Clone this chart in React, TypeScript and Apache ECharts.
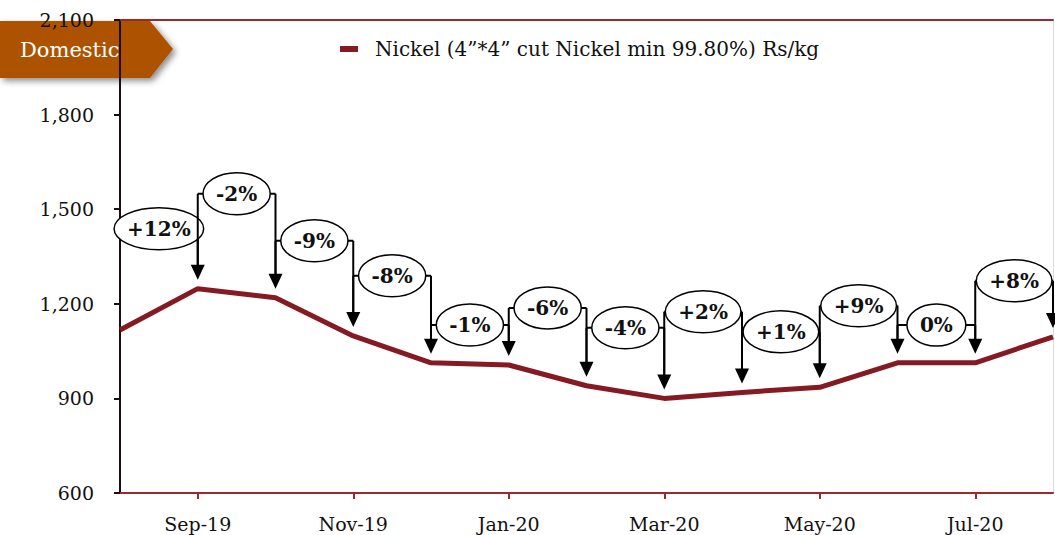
import React, { useEffect, useRef } from 'react';
import * as echarts from 'echarts';

const categories = ['Aug-19', 'Sep-19', 'Oct-19', 'Nov-19', 'Dec-19', 'Jan-20', 'Feb-20', 'Mar-20', 'Apr-20', 'May-20', 'Jun-20', 'Jul-20', 'Aug-20'];
const nickelValues = [1117, 1248, 1219, 1098, 1013, 1006, 940, 900, 919, 935, 1013, 1013, 1095];
// change callouts, one per month from Sep-19 to Aug-20
const changeLabels = ['+12%', '-2%', '-9%', '-8%', '-1%', '-6%', '-4%', '+2%', '+1%', '+9%', '0%', '+8%'];
// vertical level (in Rs/kg) where each callout bubble sits
const calloutLevels = [1438, 1549, 1400, 1289, 1133, 1187, 1124, 1175, 1111, 1194, 1133, 1273];

const seriesName = 'Nickel (4”*4” cut Nickel min 99.80%) Rs/kg';
const badgeText = 'Domestic';

const FONT = '"DejaVu Serif", "Liberation Serif", serif';
const LINE_COLOR = '#861A22';
const AXIS_RED = '#9B2A2E';

const measureCtx = (() => {
  const c = document.createElement('canvas');
  return c.getContext('2d');
})();
function textWidth(t: string, font: string) {
  if (!measureCtx) return t.length * 12;
  measureCtx.font = font;
  return measureCtx.measureText(t).width;
}

export default function App() {
  const ref = useRef<HTMLDivElement>(null);
  useEffect(() => {
    if (!ref.current) return;
    const chart = echarts.init(ref.current, undefined, { renderer: 'svg' });
    const calloutData = changeLabels.map((lab, k) => {
      const i = k + 1;
      return [i, calloutLevels[k], nickelValues[i], nickelValues[i - 1], lab];
    });
    const labelFont = `bold 20px ${FONT}`;
    const option: any = {
      animation: false,
      grid: { left: 120, top: 20, right: 2, bottom: 42, containLabel: false },
      legend: {
        left: 335,
        top: 34,
        itemWidth: 18,
        itemHeight: 6,
        icon: 'rect',
        textStyle: { fontFamily: FONT, fontSize: 20, color: '#111', padding: [0, 0, 0, 12] },
        data: [seriesName],
      },
      xAxis: [
        {
          type: 'category',
          data: categories,
          boundaryGap: false,
          axisLine: { lineStyle: { color: AXIS_RED, width: 2 } },
          axisTick: {
            show: true,
            length: 6,
            interval: (idx: number) => idx % 2 === 1,
            lineStyle: { color: AXIS_RED, width: 2 },
          },
          axisLabel: {
            interval: (idx: number) => idx % 2 === 1,
            fontFamily: FONT,
            fontSize: 19,
            color: '#111',
            margin: 21,
          },
          splitLine: { show: false },
        },
        {
          type: 'category',
          data: categories,
          boundaryGap: false,
          position: 'top',
          axisLine: { lineStyle: { color: AXIS_RED, width: 2 } },
          axisTick: { show: false },
          axisLabel: { show: false },
        },
      ],
      yAxis: [
        {
          type: 'value',
          min: 600,
          max: 2100,
          interval: 300,
          axisLine: { show: true, lineStyle: { color: '#1a0d0d', width: 2 } },
          axisTick: { show: true, length: 6, lineStyle: { color: '#1a0d0d', width: 2 } },
          axisLabel: {
            fontFamily: FONT,
            fontSize: 19,
            color: '#111',
            margin: 26,
            formatter: (v: number) => v.toLocaleString('en-US'),
          },
          splitLine: { show: false },
        },
        {
          type: 'value',
          min: 600,
          max: 2100,
          interval: 300,
          position: 'right',
          axisLine: { show: true, lineStyle: { color: '#dddddd', width: 1 } },
          axisTick: { show: false },
          axisLabel: { show: false },
          splitLine: { show: false },
        },
      ],
      series: [
        {
          name: seriesName,
          type: 'line',
          data: nickelValues,
          showSymbol: false,
          symbol: 'none',
          lineStyle: { color: LINE_COLOR, width: 5 },
          itemStyle: { color: LINE_COLOR },
          z: 3,
        },
        {
          type: 'custom',
          clip: false,
          z: 5,
          data: calloutData,
          renderItem: (params: any, api: any) => {
            const i = api.value(0);
            const lvl = api.value(1);
            const [xc, yE] = api.coord([i, lvl]);
            const [xp] = api.coord([i - 1, lvl]);
            const yPt = api.coord([i, api.value(2)])[1];
            const yPrev = api.coord([i - 1, api.value(3)])[1];
            const lab = calloutData[params.dataIndex][4] as string;
            const mid = (xc + xp) / 2;
            const w = textWidth(lab, labelFont);
            const rx = w / 2 + 13;
            const ry = 21;
            const tipGap = 9;
            const headH = 15;
            const headW = 7;
            const stroke = { stroke: '#000', lineWidth: 2 };
            const children: any[] = [
              { type: 'line', shape: { x1: xp, y1: yE, x2: xc, y2: yE }, style: stroke },
              { type: 'line', shape: { x1: xc, y1: yE, x2: xc, y2: yPt - tipGap - headH + 1 }, style: stroke },
              {
                type: 'polygon',
                shape: { points: [[xc - headW, yPt - tipGap - headH], [xc + headW, yPt - tipGap - headH], [xc, yPt - tipGap]] },
                style: { fill: '#000' },
              },
            ];
            if (i > 1) {
              children.push({ type: 'line', shape: { x1: xp, y1: yE, x2: xp, y2: yPrev - tipGap - headH + 1 }, style: stroke });
            }
            children.push({
              type: 'ellipse',
              shape: { cx: mid, cy: yE, rx, ry },
              style: { fill: '#fff', stroke: '#000', lineWidth: 1.5 },
            });
            children.push({
              type: 'text',
              x: mid,
              y: yE,
              style: {
                text: lab,
                font: labelFont,
                fill: '#111',
                align: 'center',
                verticalAlign: 'middle',
              },
            });
            return { type: 'group', children };
          },
        },
      ],
      graphic: [
        {
          type: 'group',
          z: 100,
          children: [
            {
              type: 'polygon',
              shape: { points: [[0, 21], [150, 21], [173, 49], [150, 78], [0, 78]] },
              style: {
                fill: '#AD5300',
                shadowBlur: 6,
                shadowColor: 'rgba(0,0,0,0.45)',
                shadowOffsetX: 3,
                shadowOffsetY: 3,
              },
            },
            {
              type: 'text',
              x: 20,
              y: 50,
              style: {
                text: badgeText,
                font: `21px ${FONT}`,
                fill: '#fff',
                verticalAlign: 'middle',
              },
            },
          ],
        },
      ],
    };
    chart.setOption(option);
    return () => chart.dispose();
  }, []);
  return <div ref={ref} style={{ position: 'absolute', left: 0, top: 0, width: 1055, height: 535 }} />;
}
